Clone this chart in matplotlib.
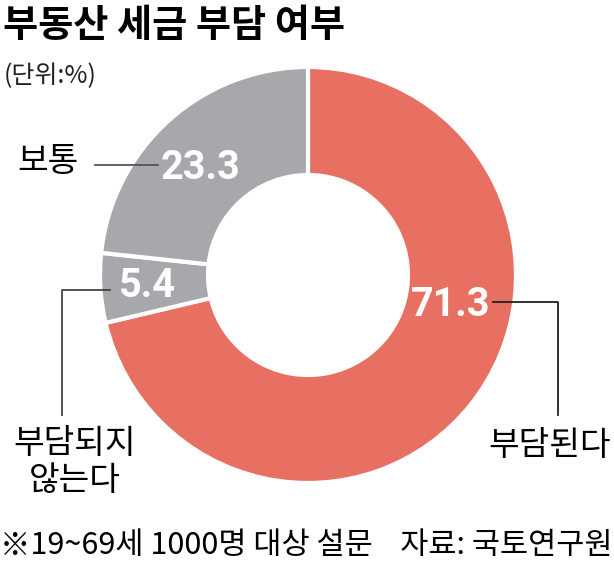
import matplotlib
matplotlib.use("Agg")
import matplotlib.pyplot as plt

categories = ["부담된다", "부담되지\n않는다", "보통"]
values = [71.3, 5.4, 23.3]
value_labels = ["71.3", "5.4", "23.3"]
colors = ["#E87063", "#A7A8AB", "#A7A8AB"]

title = "부동산 세금 부담 여부"
unit = "(단위:%)"
footnote = "※19~69세 1000명 대상 설문    자료: 국토연구원"

W, H = 614, 565
fig = plt.figure(figsize=(W / 100, H / 100), dpi=100)
ax = fig.add_axes([0, 0, 1, 1])

KR = ["Noto Sans CJK KR", "DejaVu Sans"]
NUM = ["Roboto", "Liberation Sans", "DejaVu Sans"]

cx, cy, R = 308, H - 275, 208
ax.pie(values, colors=colors, startangle=90, counterclock=False,
       radius=R, center=(cx, cy), frame=True,
       wedgeprops=dict(width=R - 100, edgecolor="white", linewidth=3))
ax.set_xlim(0, W)
ax.set_ylim(0, H)
ax.set_aspect("equal")
ax.axis("off")

# value labels
val_pos = [(451, H - 305), (147, H - 286), (201, H - 168)]
for (x, y), t in zip(val_pos, value_labels):
    ax.text(x, y, t, color="white", fontsize=28.5, fontweight="bold",
            family=NUM, ha="center", va="center")

# leader lines
ax.plot([493, 558, 558], [H - 302, H - 302, H - 415], color="#222222", linewidth=1.3)
ax.plot([110, 62, 62], [H - 290, H - 290, H - 415], color="#444444", linewidth=1.3)
ax.plot([95, 158], [H - 165, H - 165], color="#555555", linewidth=1.3)

# category labels
ax.text(550, H - 445, categories[0], fontsize=24, family=KR, ha="center", va="center", color="black")
ax.text(75, H - 462, categories[1], fontsize=24, family=KR, ha="center", va="center",
        color="black", linespacing=1.1)
ax.text(48, H - 162, categories[2], fontsize=24, family=KR, ha="center", va="center", color="black")

ax.text(3, H - 25, title, fontsize=27.5, fontweight="bold", family=KR, ha="left", va="center", color="black")
ax.text(4, H - 76, unit, fontsize=18, family=KR, ha="left", va="center", color="#222222")
ax.text(0, H - 546, footnote, fontsize=22, family=KR, ha="left", va="center", color="black")

fig.savefig("out.png", dpi=100)
